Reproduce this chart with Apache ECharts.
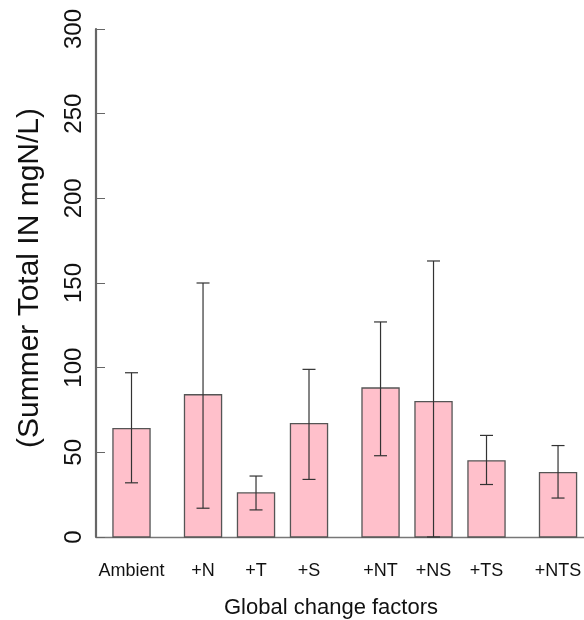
<!DOCTYPE html>
<html lang="en">
<head>
    <meta charset="UTF-8">
    <title>Summer Total IN</title>
    <script src="https://cdn.jsdelivr.net/npm/echarts@6/dist/echarts.min.js"></script>
    <style>
        html, body { margin: 0; padding: 0; background: #fff; }
    </style>
</head>
<body>
<div id="main" style="width: 584px;height: 620px"></div>
</body>

<script>
    var FONT = "'Liberation Sans', Arial, sans-serif";

    // data
    var categories = ['Ambient', '+N', '+T', '+S', '+NT', '+NS', '+TS', '+NTS'];
    var means = [64, 84, 26, 67, 88, 80, 45, 38];
    var upper = [97, 150, 36, 99, 127, 163, 60, 54];
    var lower = [32, 17, 16, 34, 48, 0, 31, 23];

    // bar slots along x (bars are grouped with wider gaps in the figure)
    var slots = [0, 1.35, 2.35, 3.35, 4.7, 5.7, 6.7, 8.05];
    var barW = 0.7;

    var seriesData = [];
    for (var i = 0; i < categories.length; i++) {
        seriesData.push([slots[i], means[i], lower[i], upper[i], i]);
    }

    var myChart = echarts.init(document.getElementById('main'));

    function renderBar(params, api) {
        var x = api.value(0);
        var top = api.coord([x, api.value(1)]);
        var base = api.coord([x, 0]);
        var lo = api.coord([x, api.value(2)]);
        var hi = api.coord([x, api.value(3)]);
        var w = api.size([barW, 0])[0];
        var cap = 6.5;
        var lineStyle = {stroke: '#333', lineWidth: 1.2};
        return {
            type: 'group',
            children: [{
                type: 'rect',
                shape: {x: top[0] - w / 2, y: top[1], width: w, height: base[1] - top[1]},
                style: {fill: '#FFC0CB', stroke: '#555', lineWidth: 1.3}
            }, {
                type: 'line',
                shape: {x1: lo[0], y1: lo[1], x2: hi[0], y2: hi[1]},
                style: lineStyle
            }, {
                type: 'line',
                shape: {x1: hi[0] - cap, y1: hi[1], x2: hi[0] + cap, y2: hi[1]},
                style: lineStyle
            }, {
                type: 'line',
                shape: {x1: lo[0] - cap, y1: lo[1], x2: lo[0] + cap, y2: lo[1]},
                style: lineStyle
            }, {
                type: 'text',
                x: base[0],
                y: base[1] + 34,
                style: {
                    text: categories[api.value(4)],
                    fill: '#111',
                    font: '18px ' + FONT,
                    align: 'center',
                    verticalAlign: 'middle'
                }
            }]
        };
    }

    var option = {
        backgroundColor: '#fff',
        animation: false,
        grid: {
            left: 96,
            right: 0,
            top: 29,
            bottom: 83,
            containLabel: false,
            outerBoundsMode: 'none'
        },
        xAxis: {
            type: 'value',
            min: -0.67,
            max: 8.54,
            name: 'Global change factors',
            nameLocation: 'middle',
            nameGap: 60,
            nameTextStyle: {
                fontFamily: FONT,
                fontSize: 22,
                color: '#111',
                padding: [0, 18, 0, 0]
            },
            axisLine: {
                show: true,
                onZero: false,
                lineStyle: {color: '#777', width: 1.3}
            },
            axisTick: {show: false},
            axisLabel: {show: false},
            splitLine: {show: false}
        },
        yAxis: {
            type: 'value',
            min: 0,
            max: 300,
            interval: 50,
            name: '(Summer Total IN mgN/L)',
            nameLocation: 'middle',
            nameRotate: 90,
            nameGap: 51,
            nameTextStyle: {
                fontFamily: FONT,
                fontSize: 30,
                color: '#111',
                padding: [0, 0, 0, 10]
            },
            axisLine: {
                show: true,
                onZero: false,
                lineStyle: {color: '#666', width: 2.2}
            },
            axisTick: {
                show: true,
                inside: true,
                length: 9,
                lineStyle: {color: '#666', width: 1}
            },
            axisLabel: {
                rotate: 90,
                margin: 10,
                fontFamily: FONT,
                fontSize: 24,
                color: '#111'
            },
            splitLine: {show: false}
        },
        series: [{
            type: 'custom',
            renderItem: renderBar,
            clip: false,
            data: seriesData
        }]
    };

    myChart.setOption(option);
</script>

</html>
